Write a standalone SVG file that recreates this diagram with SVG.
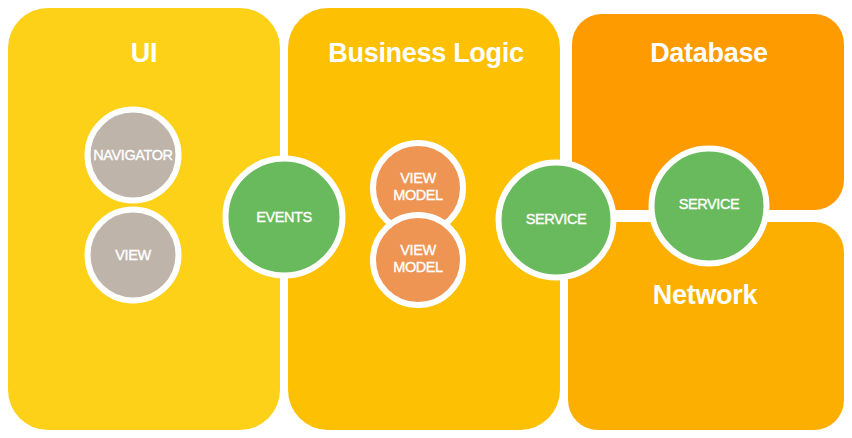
<svg xmlns="http://www.w3.org/2000/svg" width="852" height="438" viewBox="0 0 852 438">
<style>
.title{font-family:"Liberation Sans",Arial,sans-serif;font-weight:bold;font-size:27px;fill:#fff;text-anchor:middle;letter-spacing:-0.3px}
.lbl{font-family:"Liberation Sans",Arial,sans-serif;font-size:14.5px;fill:#fff;stroke:#fff;stroke-width:0.35;text-anchor:middle;letter-spacing:-0.4px}
.c{stroke:#fff;stroke-width:6}
.grey{fill:#BFB4A9}
.green{fill:#69BA5D}
.orange{fill:#EF9553}
</style>
<rect width="852" height="438" fill="#fff"/>
<g id="panel-ui">
<rect x="8" y="8" width="272" height="422" rx="40" fill="#FDD118"/>
<text class="title" x="144" y="62">UI</text>
</g>
<g id="panel-business">
<rect x="288" y="8" width="272" height="422" rx="40" fill="#FDC002"/>
<text class="title" x="426" y="62">Business Logic</text>
</g>
<g id="panel-database">
<rect x="572" y="14" width="272" height="196" rx="30" fill="#FD9B00"/>
<text class="title" x="709" y="62">Database</text>
</g>
<g id="panel-network">
<rect x="568" y="222" width="276" height="208" rx="30" fill="#FDAF00"/>
<text class="title" x="705" y="304">Network</text>
</g>
<g id="connectors"></g>
<g id="navigator">
<circle class="c grey" cx="133" cy="155" r="45.5"/>
<text class="lbl" x="133" y="160">NAVIGATOR</text>
</g>
<g id="view">
<circle class="c grey" cx="133" cy="255" r="45.5"/>
<text class="lbl" x="133" y="260">VIEW</text>
</g>
<g id="events">
<circle class="c green" cx="284" cy="217" r="58.5"/>
<text class="lbl" x="284" y="222">EVENTS</text>
</g>
<g id="viewmodel1">
<circle class="c orange" cx="418" cy="188" r="45"/>
<text class="lbl" x="418" y="183">VIEW</text>
<text class="lbl" x="418" y="200">MODEL</text>
</g>
<g id="viewmodel2">
<circle class="c orange" cx="418" cy="260" r="45"/>
<text class="lbl" x="418" y="255">VIEW</text>
<text class="lbl" x="418" y="272">MODEL</text>
</g>
<g id="service-bl">
<circle class="c green" cx="556" cy="220" r="57.5"/>
<text class="lbl" x="556" y="224">SERVICE</text>
</g>
<g id="service-data">
<circle class="c green" cx="709" cy="206" r="57.5"/>
<text class="lbl" x="709" y="209">SERVICE</text>
</g>
</svg>
